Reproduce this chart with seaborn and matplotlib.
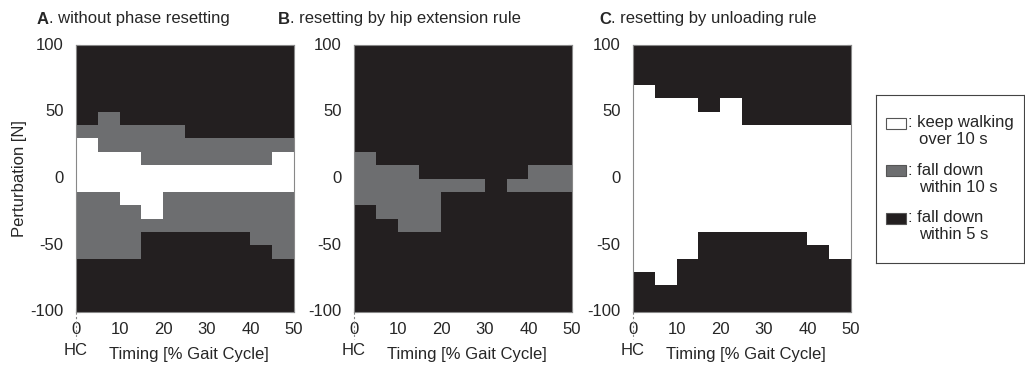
import numpy as np
import pandas as pd
import seaborn as sns
import matplotlib.pyplot as plt
from matplotlib.colors import ListedColormap
from matplotlib.patches import Rectangle

# outcome per cell: W = keep walking, G = fall within 10 s, K = fall within 5 s
# rows from +100 N (top) down to -100 N, columns 0-5, 5-10, ... 45-50 % gait cycle
timing_bins = ['0-5', '5-10', '10-15', '15-20', '20-25', '25-30', '30-35', '35-40', '40-45', '45-50']
perturb_bins = [95, 85, 75, 65, 55, 45, 35, 25, 15, 5,
                -5, -15, -25, -35, -45, -55, -65, -75, -85, -95]

grid_a = ['KKKKKKKKKK', 'KKKKKKKKKK', 'KKKKKKKKKK', 'KKKKKKKKKK', 'KKKKKKKKKK',
          'KGKKKKKKKK', 'GGGGGKKKKK', 'WGGGGGGGGG', 'WWWGGGGGGW', 'WWWWWWWWWW',
          'WWWWWWWWWW', 'GGWWGGGGGG', 'GGGWGGGGGG', 'GGGGGGGGGG', 'GGGKKKKKGG',
          'GGGKKKKKKG', 'KKKKKKKKKK', 'KKKKKKKKKK', 'KKKKKKKKKK', 'KKKKKKKKKK']

grid_b = ['KKKKKKKKKK', 'KKKKKKKKKK', 'KKKKKKKKKK', 'KKKKKKKKKK', 'KKKKKKKKKK',
          'KKKKKKKKKK', 'KKKKKKKKKK', 'KKKKKKKKKK', 'GKKKKKKKKK', 'GGGKKKKKGG',
          'GGGGGGKGGG', 'GGGGKKKKKK', 'KGGGKKKKKK', 'KKGGKKKKKK', 'KKKKKKKKKK',
          'KKKKKKKKKK', 'KKKKKKKKKK', 'KKKKKKKKKK', 'KKKKKKKKKK', 'KKKKKKKKKK']

grid_c = ['KKKKKKKKKK', 'KKKKKKKKKK', 'KKKKKKKKKK', 'WKKKKKKKKK', 'WWWKWKKKKK',
          'WWWWWKKKKK', 'WWWWWWWWWW', 'WWWWWWWWWW', 'WWWWWWWWWW', 'WWWWWWWWWW',
          'WWWWWWWWWW', 'WWWWWWWWWW', 'WWWWWWWWWW', 'WWWWWWWWWW', 'WWWKKKKKWW',
          'WWWKKKKKKW', 'WWKKKKKKKK', 'KWKKKKKKKK', 'KKKKKKKKKK', 'KKKKKKKKKK']

titles = ['A', 'B', 'C']
subtitles = ['. without phase resetting', '. resetting by hip extension rule',
             '. resetting by unloading rule']
x_ticklabels = ['0', '10', '20', '30', '40', '50']
y_ticklabels = ['100', '50', '0', '-50', '-100']
legend_labels = [(': keep walking', 'over 10 s'), (': fall down', 'within 10 s'),
                 (': fall down', 'within 5 s')]

col_white = '#ffffff'
col_gray = '#6d6e70'
col_black = '#231f20'
code = {'W': 0, 'G': 1, 'K': 2}

sns.set_style('white')
plt.rcParams['font.family'] = ['Liberation Sans', 'DejaVu Sans']
plt.rcParams['font.size'] = 12

W, H = 1025, 369
fig = plt.figure(figsize=(W / 100, H / 100), dpi=100)
lefts = [76, 354, 633]
title_x = [37, 278, 599]
cmap = ListedColormap([col_white, col_gray, col_black])

for i, grid in enumerate([grid_a, grid_b, grid_c]):
    ax = fig.add_axes([lefts[i] / W, 1 - 312 / H, 218 / W, 267 / H])
    df = pd.DataFrame([[code[c] for c in row] for row in grid],
                      index=perturb_bins, columns=timing_bins)
    sns.heatmap(df, ax=ax, cmap=cmap, vmin=0, vmax=2, cbar=False)
    ax.set_xticks(np.arange(0, 11, 2))
    ax.set_xticklabels(x_ticklabels, rotation=0)
    ax.set_yticks(np.arange(0, 21, 5))
    ax.set_yticklabels(y_ticklabels, rotation=0)
    ax.tick_params(direction='in', length=3, color='#888888', left=True, right=True,
                   bottom=True, top=True, labelsize=12)
    ax.tick_params(axis='y', pad=9)
    ax.tick_params(axis='x', pad=7)
    for s in ax.spines.values():
        s.set_visible(True)
        s.set_color('#888888')
        s.set_linewidth(0.8)
    ax.set_xlabel('Timing [% Gait Cycle]', fontsize=12)
    ax.xaxis.set_label_coords(0.516, -0.16)
    ax.xaxis.label.set_va('center')
    if i == 0:
        ax.set_ylabel('Perturbation [N]', fontsize=12)
        ax.yaxis.set_label_coords(-0.26, 0.5)
        ax.yaxis.label.set_va('center')
    else:
        ax.set_ylabel('')
    # dashed marker from the axis down to heel contact
    ax.plot([0, 0], [0, -0.1], transform=ax.transAxes, color='#888888',
            linestyle=(0, (2, 2)), linewidth=0.8, clip_on=False)
    ax.text(0, -0.145, 'HC', transform=ax.transAxes, ha='center', va='center', fontsize=12)
    t = fig.text(title_x[i] / W, 1 - 19 / H, titles[i], fontsize=12, fontweight='bold',
                 ha='left', va='center')
    fig.canvas.draw()
    bb = t.get_window_extent()
    fig.text(bb.x1 / W, 1 - 19 / H, subtitles[i], fontsize=12, ha='left', va='center')

# legend box
lax = fig.add_axes([876 / W, 1 - 263 / H, 148 / W, 168 / H])
lax.set_xlim(0, 148)
lax.set_ylim(168, 0)
lax.set_xticks([])
lax.set_yticks([])
for s in lax.spines.values():
    s.set_visible(True)
    s.set_color('#444444')
    s.set_linewidth(0.8)
for k, (c, (l1, l2)) in enumerate(zip([col_white, col_gray, col_black], legend_labels)):
    y0 = 28 + 47.5 * k
    lax.add_patch(Rectangle((10, y0 - 5.5), 20, 11, facecolor=c, edgecolor='#555555',
                            linewidth=0.8))
    lax.text(32, y0, l1, fontsize=12, va='center', ha='left')
    lax.text(43, y0 + 16.5, l2, fontsize=12, va='center', ha='left')

fig.savefig('out.png', dpi=100)
